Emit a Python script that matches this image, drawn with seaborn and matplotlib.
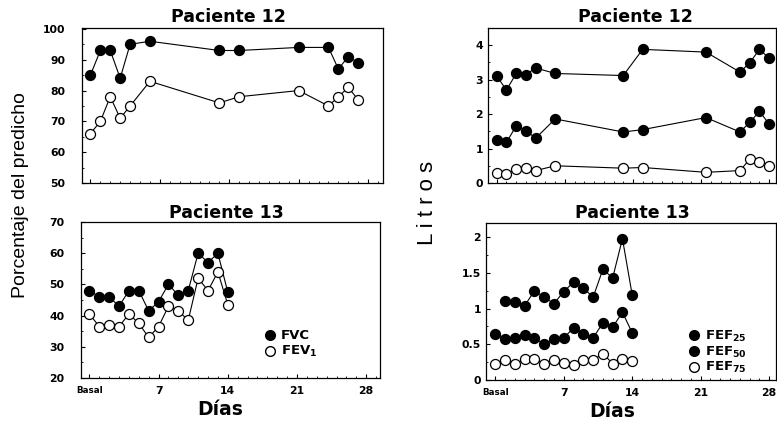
import matplotlib
matplotlib.use("Agg")
import matplotlib.pyplot as plt
from matplotlib.lines import Line2D
from matplotlib.ticker import MultipleLocator
import seaborn as sns

# Patient 12, % predicted (left top)
days_p12 = [0, 1, 2, 3, 4, 6, 13, 15, 21, 24, 25, 26, 27]
fvc_p12 = [85, 93, 93, 84, 95, 96, 93, 93, 94, 94, 87, 91, 89]
fev1_p12 = [66, 70, 78, 71, 75, 83, 76, 78, 80, 75, 78, 81, 77]

# Patient 13, % predicted (left bottom)
days_p13 = [0, 1, 2, 3, 4, 5, 6, 7, 8, 9, 10, 11, 12, 13, 14]
fvc_p13 = [48, 46, 46, 43, 48, 48, 41.5, 44.5, 50, 46.5, 48, 60, 57, 60, 47.5]
fev1_p13 = [40.5, 36.5, 37, 36.5, 40.5, 37.5, 33, 36.5, 43, 41.5, 38.5, 52, 48, 54, 43.5]

# Patient 12, litres (right top)
days_p12_fef = [0, 1, 2, 3, 4, 6, 13, 15, 21.5, 25, 26, 27, 28]
fef25_p12 = [3.1, 2.7, 3.18, 3.15, 3.34, 3.18, 3.12, 3.88, 3.8, 3.22, 3.49, 3.88, 3.62]
fef50_p12 = [1.25, 1.18, 1.66, 1.52, 1.3, 1.86, 1.48, 1.55, 1.9, 1.48, 1.76, 2.08, 1.71]
fef75_p12 = [0.3, 0.26, 0.4, 0.43, 0.36, 0.5, 0.43, 0.45, 0.31, 0.36, 0.69, 0.62, 0.5]

# Patient 13, litres (right bottom)
days_fef25_p13 = [1, 2, 3, 4, 5, 6, 7, 8, 9, 10, 11, 12, 13, 14]
fef25_p13 = [1.11, 1.09, 1.04, 1.25, 1.16, 1.07, 1.24, 1.37, 1.29, 1.16, 1.55, 1.43, 1.98, 1.19]
days_fef_p13 = [0, 1, 2, 3, 4, 5, 6, 7, 8, 9, 10, 11, 12, 13, 14]
fef50_p13 = [0.64, 0.57, 0.59, 0.63, 0.59, 0.5, 0.57, 0.59, 0.73, 0.65, 0.59, 0.8, 0.74, 0.95, 0.66]
fef75_p13 = [0.23, 0.28, 0.22, 0.29, 0.29, 0.23, 0.28, 0.24, 0.21, 0.28, 0.28, 0.37, 0.23, 0.29, 0.27]

day_ticks = [0, 7, 14, 21, 28]
day_labels = ["Basal", "7", "14", "21", "28"]

W, H = 777, 423

sns.set_style("ticks")
plt.rcParams["font.family"] = ["DejaVu Sans"]
plt.rcParams["font.weight"] = "bold"
plt.rcParams["mathtext.default"] = "bf"
for key in ["text.color", "axes.labelcolor", "xtick.color", "ytick.color", "axes.edgecolor"]:
    plt.rcParams[key] = "black"

fig = plt.figure(figsize=(W / 100, H / 100), dpi=100)


def px_axes(left, top, right, bottom):
    return fig.add_axes([left / W, 1 - bottom / H, (right - left) / W, (bottom - top) / H])


def draw_series(ax, days, values, filled):
    sns.lineplot(x=days, y=values, ax=ax, color="black", linewidth=0.8,
                 estimator=None, sort=False, marker="o", markersize=7.2,
                 markerfacecolor="black" if filled else "white",
                 markeredgecolor="black", markeredgewidth=0.9)


def style_axes(ax, xlim, ylim, yticks, ylabels, ypad, show_x):
    ax.set_xlim(*xlim)
    ax.set_ylim(*ylim)
    ax.set_xticks(day_ticks)
    ax.set_yticks(yticks)
    ax.set_yticklabels(ylabels)
    ax.xaxis.set_minor_locator(MultipleLocator(1))
    ax.yaxis.set_minor_locator(MultipleLocator((yticks[1] - yticks[0]) / 2))
    ax.tick_params(which="major", direction="in", length=3, width=0.8, labelsize=7.8)
    ax.tick_params(which="minor", direction="in", length=1.5, width=0.6)
    ax.tick_params(axis="y", pad=ypad)
    if show_x:
        ax.set_xticklabels(day_labels)
        ax.tick_params(axis="x", pad=6)
        ax.get_xticklabels()[0].set_fontsize(6.3)
    else:
        ax.set_xticklabels([])
    for sp in ax.spines.values():
        sp.set_linewidth(0.9)
        sp.set_color("black")
    ax.set_xlabel("")
    ax.set_ylabel("")


# left top
ax1 = px_axes(82, 28, 383, 183)
draw_series(ax1, days_p12, fvc_p12, True)
draw_series(ax1, days_p12, fev1_p12, False)
style_axes(ax1, (-0.85, 29.5), (50, 100.3), [50, 60, 70, 80, 90, 100],
           ["50", "60", "70", "80", "90", "100"], 12, False)

# left bottom
ax2 = px_axes(81, 222, 380, 378)
draw_series(ax2, days_p13, fvc_p13, True)
draw_series(ax2, days_p13, fev1_p13, False)
style_axes(ax2, (-0.85, 29.4), (20, 70), [20, 30, 40, 50, 60, 70],
           ["20", "30", "40", "50", "60", "70"], 12, True)
h_fill = Line2D([], [], ls="none", marker="o", markersize=7, mfc="black", mec="black")
h_open = Line2D([], [], ls="none", marker="o", markersize=7, mfc="white", mec="black")
ax2.legend([h_fill, h_open], ["FVC", "FEV$_1$"], loc="lower left",
           bbox_to_anchor=(0.61, 0.12), frameon=False, fontsize=9.5,
           handlelength=1.0, handletextpad=0.3, labelspacing=0.15,
           borderpad=0, borderaxespad=0)

# right top
ax3 = px_axes(488, 28, 776, 183)
draw_series(ax3, days_p12_fef, fef25_p12, True)
draw_series(ax3, days_p12_fef, fef50_p12, True)
draw_series(ax3, days_p12_fef, fef75_p12, False)
style_axes(ax3, (-0.9, 28.7), (0, 4.5), [0, 1, 2, 3, 4],
           ["0", "1", "2", "3", "4"], 3.5, False)

# right bottom
ax4 = px_axes(486, 223, 776, 380)
draw_series(ax4, days_fef25_p13, fef25_p13, True)
draw_series(ax4, days_fef_p13, fef50_p13, True)
draw_series(ax4, days_fef_p13, fef75_p13, False)
style_axes(ax4, (-0.95, 28.7), (0, 2.2), [0, 0.5, 1, 1.5, 2],
           ["0", "0.5", "1", "1.5", "2"], 3.5, True)
ax4.legend([h_fill, h_fill, h_open], ["FEF$_{25}$", "FEF$_{50}$", "FEF$_{75}$"],
           loc="lower left", bbox_to_anchor=(0.695, 0.03), frameon=False,
           fontsize=9.5, handlelength=1.0, handletextpad=0.3, labelspacing=0.05,
           borderpad=0, borderaxespad=0)

# titles and shared labels, placed in pixel coordinates
for x, y, s in [(228, 17, "Paciente 12"), (635, 17, "Paciente 12"),
                (226, 213, "Paciente 13"), (632, 213, "Paciente 13")]:
    fig.text(x / W, 1 - y / H, s, ha="center", va="center", fontsize=12.5,
             fontweight="bold")

fig.text(220 / W, 1 - 409 / H, "Días", ha="center", va="center", fontsize=13.5,
         fontweight="bold")
fig.text(612 / W, 1 - 411 / H, "Días", ha="center", va="center", fontsize=13.5,
         fontweight="bold")

fig.text(21 / W, 1 - 195 / H, "Porcentaje del predicho", rotation=90,
         ha="center", va="center", fontsize=14, fontweight="normal",
         family=["Liberation Sans"])
fig.text(427 / W, 1 - 203 / H, "L i t r o s", rotation=90, ha="center",
         va="center", fontsize=16, fontweight="normal", family=["Liberation Sans"])

fig.savefig("out.png", dpi=100)
